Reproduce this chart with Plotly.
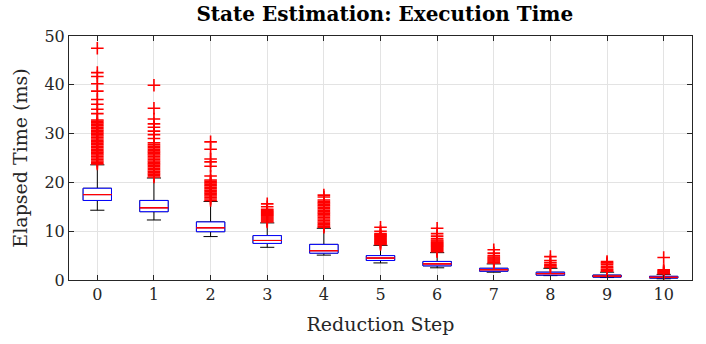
import plotly.graph_objects as go

steps = [0, 1, 2, 3, 4, 5, 6, 7, 8, 9, 10]
q1 = [16.3, 14.0, 9.9, 7.5, 5.5, 4.0, 2.9, 1.8, 1.0, 0.6, 0.4]
median = [17.5, 14.8, 10.7, 8.1, 6.0, 4.5, 3.3, 2.1, 1.3, 0.8, 0.55]
q3 = [18.8, 16.3, 11.9, 9.1, 7.3, 5.0, 3.8, 2.4, 1.6, 1.0, 0.75]
lowerfence = [14.3, 12.3, 8.9, 6.7, 5.1, 3.5, 2.5, 1.6, 0.9, 0.5, 0.25]
upperfence = [23.6, 20.9, 16.1, 11.7, 10.6, 7.1, 5.6, 3.3, 2.4, 1.6, 1.15]

outliers = {
    0: [23.8, 24.1, 24.4, 24.7, 25.0, 25.3, 25.6, 25.9, 26.2, 26.5, 26.8, 27.1, 27.4,
        27.7, 28.0, 28.3, 28.6, 28.9, 29.2, 29.5, 29.8, 30.1, 30.4, 30.7, 31.0, 31.3,
        31.6, 31.9, 32.2, 32.5, 32.8, 34.1, 35.0, 36.0, 37.0, 38.7, 40.2, 41.7, 42.5, 47.5],
    1: [21.1, 21.4, 21.7, 22.0, 22.3, 22.6, 22.9, 23.2, 23.5, 23.8, 24.1, 24.4, 24.7,
        25.0, 25.3, 25.6, 25.9, 26.2, 26.5, 26.8, 27.1, 27.4, 27.7, 28.1, 29.0, 29.8,
        30.5, 31.3, 32.0, 33.0, 35.2, 39.9],
    2: [16.3, 16.6, 16.9, 17.2, 17.5, 17.8, 18.1, 18.4, 18.7, 19.0, 19.3, 19.6, 19.9,
        20.2, 20.5, 21.3, 23.3, 24.2, 24.8, 26.8, 28.3],
    3: [11.9, 12.1, 12.3, 12.5, 12.7, 12.9, 13.1, 13.3, 13.5, 13.7, 13.9, 14.1, 14.3,
        14.5, 15.0, 15.6],
    4: [10.8, 11.0, 11.3, 11.6, 11.9, 12.2, 12.5, 12.8, 13.1, 13.4, 13.7, 14.0, 14.3,
        14.6, 14.9, 15.2, 15.5, 15.8, 16.1, 16.4, 17.0, 17.4],
    5: [7.3, 7.5, 7.7, 7.9, 8.1, 8.3, 8.5, 8.7, 8.9, 9.1, 9.3, 9.5, 10.0, 10.8],
    6: [5.8, 6.0, 6.2, 6.4, 6.6, 6.8, 7.0, 7.2, 7.4, 7.6, 7.8, 8.0, 8.2, 8.5, 9.0,
        9.5, 10.6],
    7: [3.5, 3.7, 3.9, 4.1, 4.3, 4.5, 4.7, 5.0, 5.5, 6.2],
    8: [2.6, 2.9, 3.2, 3.6, 4.0, 4.8],
    9: [1.8, 2.0, 2.2, 2.5, 2.8, 3.2, 3.5, 3.8],
    10: [1.3, 1.5, 1.7, 1.9, 2.1, 4.6],
}

fig = go.Figure()

# whiskers (black)
fig.add_trace(go.Box(x=steps, q1=q1, median=median, q3=q3,
                     lowerfence=lowerfence, upperfence=upperfence,
                     width=0.5, whiskerwidth=0.5, line=dict(color="black", width=1),
                     fillcolor="white", boxpoints=False, hoverinfo="skip",
                     showlegend=False))
# box (blue)
fig.add_trace(go.Box(x=steps, q1=q1, median=median, q3=q3,
                     lowerfence=q1, upperfence=q3,
                     width=0.5, whiskerwidth=0, line=dict(color="#0000ff", width=1),
                     fillcolor="white", boxpoints=False, showlegend=False))
# median (red)
fig.add_trace(go.Box(x=steps, q1=median, median=median, q3=median,
                     lowerfence=median, upperfence=median,
                     width=0.5, whiskerwidth=0, line=dict(color="#ff0000", width=1),
                     fillcolor="rgba(0,0,0,0)", boxpoints=False, showlegend=False))

ox, oy = [], []
for k in steps:
    ox += [k] * len(outliers[k])
    oy += outliers[k]
fig.add_trace(go.Scatter(x=ox, y=oy, mode="markers", showlegend=False,
                         marker=dict(symbol="cross-thin-open", size=9, color="#ff0000",
                                     line=dict(color="#ff0000", width=1.6))))

font = "DejaVu Serif, Liberation Serif, serif"
axis_common = dict(showline=True, linecolor="#262626", linewidth=1, mirror="ticks",
                   ticks="inside", ticklen=5, tickcolor="#262626",
                   showgrid=True, gridcolor="#e3e3e3", gridwidth=1, zeroline=False,
                   tickfont=dict(family=font, size=16, color="#262626"))

fig.update_layout(
    width=706, height=344,
    margin=dict(l=69, r=14, t=36, b=62),
    paper_bgcolor="white", plot_bgcolor="white",
    boxmode="overlay",
    title=dict(text="<b>State Estimation: Execution Time</b>", x=0.545, xanchor="center",
               y=0.96, yanchor="middle",
               font=dict(family=font, size=20, color="black")),
    xaxis=dict(range=[-0.5, 10.5], tickmode="array", tickvals=steps,
               ticktext=[str(s) for s in steps],
               title=dict(text="Reduction Step", font=dict(family=font, size=19, color="#262626"),
                          standoff=14),
               **axis_common),
    yaxis=dict(range=[0, 50], tickmode="array", tickvals=[0, 10, 20, 30, 40, 50],
               title=dict(text="Elapsed Time (ms)", font=dict(family=font, size=19, color="#262626"),
                          standoff=11),
               **axis_common),
)

fig.write_html("out.html", config={"displayModeBar": False},
               post_script="document.body.style.margin='0';")
